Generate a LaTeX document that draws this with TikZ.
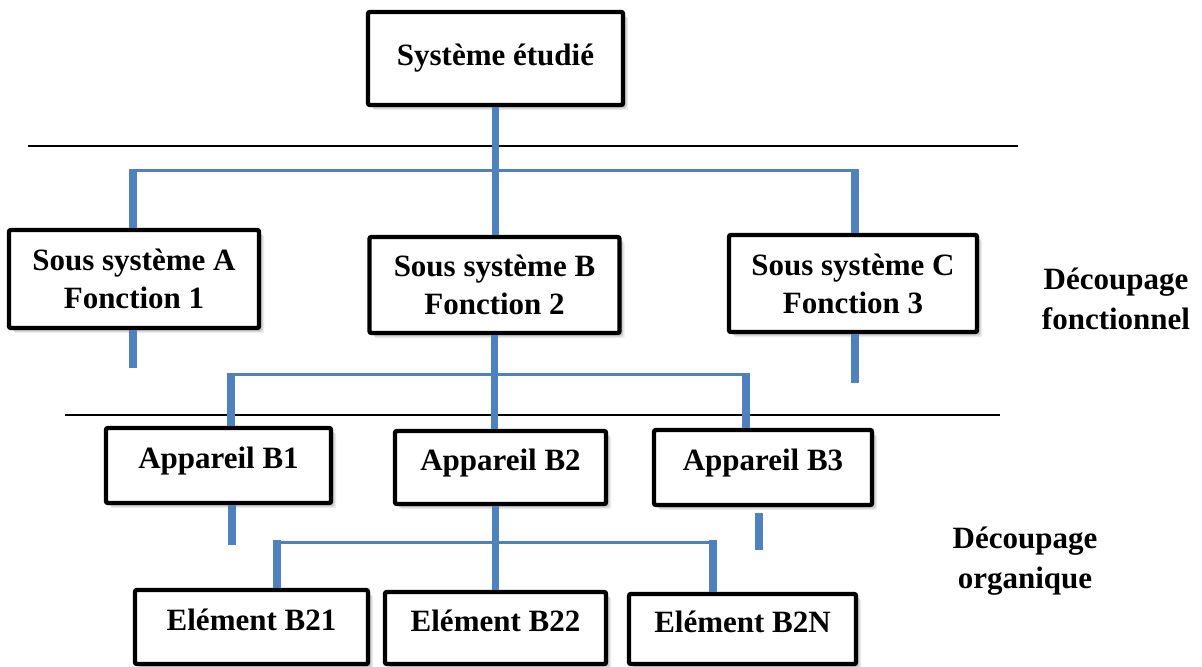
\documentclass[tikz,border=0pt]{standalone}
\usepackage{fontspec}
\setmainfont{Liberation Serif}
\usetikzlibrary{shadows}
\definecolor{wordblue}{RGB}{79,129,189}
\tikzset{
  box/.style={draw=black, line width=2.2pt, fill=white, rounded corners=1pt,
    inner sep=0pt, align=center, font=\bfseries\fontsize{15.5}{19}\selectfont,
    drop shadow={shadow xshift=2.6pt, shadow yshift=-2.6pt, fill=black, opacity=0.08},
    drop shadow={shadow xshift=1.8pt, shadow yshift=-1.8pt, fill=black, opacity=0.12},
    drop shadow={shadow xshift=1.0pt, shadow yshift=-1.0pt, fill=black, opacity=0.15}},
  upper/.style={text depth=7.5pt},
  trunk/.style={draw=wordblue, line width=3.8pt},
  hbar/.style={draw=wordblue, line width=1.5pt},
  rule/.style={draw=black, line width=1.1pt},
  side/.style={align=center, font=\bfseries\fontsize{15.5}{20}\selectfont, inner sep=0pt}
}
\begin{document}
\begin{tikzpicture}[x=0.5pt, y=-0.5pt]
\useasboundingbox (0,0) rectangle (1202,667);

% separator rules
\coordinate (r1a) at (28,146);
\coordinate (r1b) at (1018,146);
\coordinate (r2a) at (65,415);
\coordinate (r2b) at (1000,415);
\draw[rule] (r1a) -- (r1b);
\draw[rule] (r2a) -- (r2b);

% boxes
\node[box, minimum width=127.5pt, minimum height=46.5pt] (top) at (495.5,58.5) {Système étudié};
\node[box, minimum width=125pt, minimum height=49pt] (A) at (134,279) {Sous système A\\Fonction 1};
\node[box, minimum width=125pt, minimum height=48pt] (B) at (494.5,285) {Sous système B\\Fonction 2};
\node[box, minimum width=124pt, minimum height=48.5pt] (C) at (853,283.5) {Sous système C\\Fonction 3};
\node[box, upper, minimum width=112.5pt, minimum height=37.5pt] (B1) at (218.5,465.5) {Appareil B1};
\node[box, upper, minimum width=105.5pt, minimum height=36.5pt] (B2) at (500.5,467.5) {Appareil B2};
\node[box, upper, minimum width=109pt, minimum height=37.5pt] (B3) at (763,467.5) {Appareil B3};
\node[box, upper, minimum width=116.5pt, minimum height=37pt] (E21) at (251.5,627) {Elément B21};
\node[box, upper, minimum width=110.5pt, minimum height=36pt] (E22) at (495.5,628) {Elément B22};
\node[box, upper, minimum width=113.5pt, minimum height=35pt] (E2N) at (742.5,629) {Elément B2N};

% side labels
\node[side] (fonc) at (1116,299) {Découpage\\fonctionnel};
\node[side] (orga) at (1025,561) {Découpage\\organique};

% level 1 connectors
\coordinate (hA) at (133,171);
\coordinate (hC) at (855,171);
\draw[hbar] (hA) -- (hC);
\draw[trunk] (top.south) -- (top.south |- B.north);
\draw[trunk] ([yshift=0.8pt]hA) -- (hA |- A.north);
\draw[trunk] ([yshift=0.8pt]hC) -- (hC |- C.north);
\coordinate (sA) at (133,368);
\draw[trunk] (sA |- A.south) -- (sA);
\coordinate (sC) at (855,383);
\draw[trunk] (sC |- C.south) -- (sC);

% level 2 connectors
\coordinate (hB1) at (231,375);
\coordinate (hB3) at (746,375);
\draw[hbar] (hB1) -- (hB3);
\draw[trunk] (B.south) -- (B.south |- B2.north);
\draw[trunk] ([yshift=0.8pt]hB1) -- (hB1 |- B1.north);
\draw[trunk] ([yshift=0.8pt]hB3) -- (hB3 |- B3.north);
\coordinate (sB1) at (232,545);
\draw[trunk] (sB1 |- B1.south) -- (sB1);
\coordinate (sB3a) at (759,513);
\coordinate (sB3b) at (759,550);
\draw[trunk] (sB3a) -- (sB3b);

% level 3 connectors
\coordinate (hE1) at (277,542);
\coordinate (hE3) at (713,542);
\draw[hbar] (hE1) -- (hE3);
\draw[trunk] (E22.north |- B2.south) -- (E22.north);
\draw[trunk] ([yshift=0.8pt]hE1) -- (hE1 |- E21.north);
\draw[trunk] ([yshift=0.8pt]hE3) -- (hE3 |- E2N.north);
\end{tikzpicture}
\end{document}
